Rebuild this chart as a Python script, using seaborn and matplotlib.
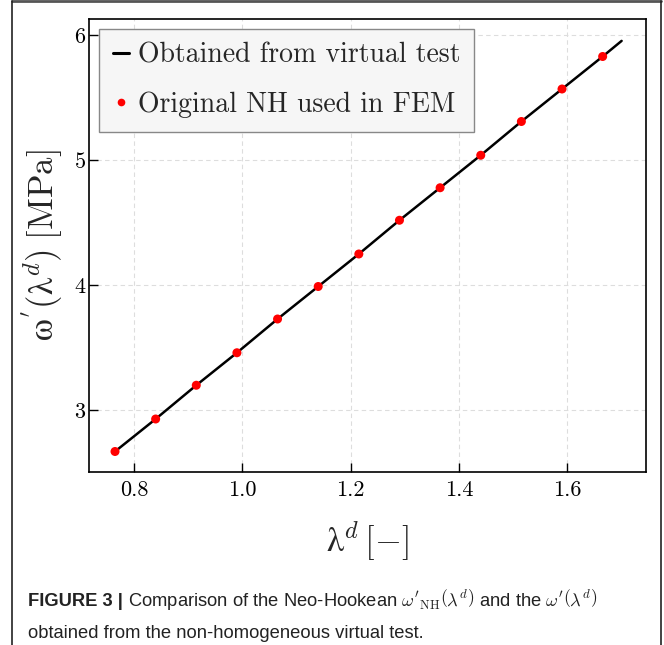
import matplotlib
matplotlib.use("Agg")
import matplotlib.pyplot as plt
import seaborn as sns
import pandas as pd
from matplotlib.lines import Line2D

# ---- data ----
lam_fem = [0.765, 0.840, 0.915, 0.990, 1.065, 1.140, 1.215, 1.290, 1.365, 1.440, 1.515, 1.590, 1.665]
w_fem = [2.67, 2.93, 3.20, 3.46, 3.73, 3.99, 4.25, 4.52, 4.78, 5.04, 5.31, 5.57, 5.83]
lam_virtual = [0.765, 0.840, 0.915, 0.990, 1.065, 1.140, 1.215, 1.290, 1.365, 1.440, 1.515, 1.590, 1.665, 1.700]
w_virtual = [2.67, 2.93, 3.20, 3.46, 3.73, 3.99, 4.25, 4.52, 4.78, 5.04, 5.31, 5.57, 5.83, 5.955]
x_ticks = [0.8, 1.0, 1.2, 1.4, 1.6]
y_ticks = [3, 4, 5, 6]
legend_labels = ["Obtained from virtual test", "Original NH used in FEM"]
x_label = r"$\mathrm{λ}^{d}\,[-]$"
y_label = r"$\mathrm{ω}^{'}(\mathrm{λ}^{d})\;[\mathrm{MPa}]$"
caption_bold = "FIGURE 3 | "
caption_line1 = r"Comparison of the Neo-Hookean $\omega'_{\rm NH}\left(\lambda^d\right)$ and the $\omega'\left(\lambda^d\right)$"
caption_line2 = "obtained from the non-homogeneous virtual test."

sns.set_theme(style="white")
plt.rcParams["font.family"] = ["cmr10", "DejaVu Serif"]
plt.rcParams["mathtext.fontset"] = "cm"
plt.rcParams["axes.formatter.use_mathtext"] = True
plt.rcParams["axes.unicode_minus"] = False

df_v = pd.DataFrame({"lam": lam_virtual, "w": w_virtual})
df_f = pd.DataFrame({"lam": lam_fem, "w": w_fem})

W, H = 664, 645
fig = plt.figure(figsize=(W / 100, H / 100), dpi=100)
ax = fig.add_axes([89 / W, 1 - 472 / H, (646 - 89) / W, (472 - 19) / H])

sns.lineplot(data=df_v, x="lam", y="w", ax=ax, color="black", linewidth=1.8, zorder=2)
sns.scatterplot(data=df_f, x="lam", y="w", ax=ax, color="#ff0000", s=42, edgecolor="none", zorder=3)

ax.set_xlim(0.717, 1.745)
ax.set_ylim(2.506, 6.13)
ax.set_xticks(x_ticks)
ax.set_yticks(y_ticks)
ax.set_xticklabels([f"{v:.1f}" for v in x_ticks])
ax.set_yticklabels([f"{v:d}" for v in y_ticks])
ax.tick_params(axis="both", direction="in", length=6.5, width=1.0, labelsize=16, colors="black",
               bottom=True, left=True)
ax.tick_params(axis="x", pad=6)
ax.tick_params(axis="y", pad=2.5)
ax.grid(True, color="#dddddd", linestyle=(0, (4, 3)), linewidth=0.8)
for sp in ax.spines.values():
    sp.set_visible(True)
    sp.set_color("black")
    sp.set_linewidth(1.2)

ax.set_xlabel(x_label, fontsize=25, labelpad=14)
ax.set_ylabel(y_label, fontsize=25, labelpad=6)

handles = [Line2D([0], [0], color="black", lw=2.2),
           Line2D([0], [0], marker="o", color="#ff0000", lw=0, markersize=5.5, markeredgewidth=0)]
leg = ax.legend(handles, legend_labels, loc="upper left", fontsize=20, frameon=True, fancybox=False,
                edgecolor="#888888", facecolor="#f6f6f6", framealpha=1, handlelength=0.6,
                handletextpad=0.3, labelspacing=0.8, borderpad=0.5, borderaxespad=0.35)
leg.get_frame().set_linewidth(1.0)

# outer frame
fig.add_artist(Line2D([12 / W, 661 / W], [1 - 1.2 / H, 1 - 1.2 / H], transform=fig.transFigure,
                      color="#555555", lw=2.0))
fig.add_artist(Line2D([12 / W, 12 / W], [0, 1 - 1.2 / H], transform=fig.transFigure, color="#222222", lw=1.2))
fig.add_artist(Line2D([661 / W, 661 / W], [0, 1 - 1.2 / H], transform=fig.transFigure, color="#222222", lw=1.2))

# caption
cap_font = ["Liberation Sans", "DejaVu Sans"]
cap_size = 13.2
t_bold = fig.text(28 / W, 1 - 606 / H, caption_bold, fontsize=cap_size, fontweight="bold", family=cap_font,
                  color="#222222", va="baseline", ha="left")
fig.canvas.draw()
bb = t_bold.get_window_extent(renderer=fig.canvas.get_renderer())
fig.text(bb.x1 / W, 1 - 606 / H, caption_line1, fontsize=cap_size, family=cap_font,
         color="#222222", va="baseline", ha="left")
fig.text(28 / W, 1 - 638 / H, caption_line2, fontsize=cap_size, family=cap_font,
         color="#222222", va="baseline", ha="left")

fig.savefig("out.png", dpi=100)
